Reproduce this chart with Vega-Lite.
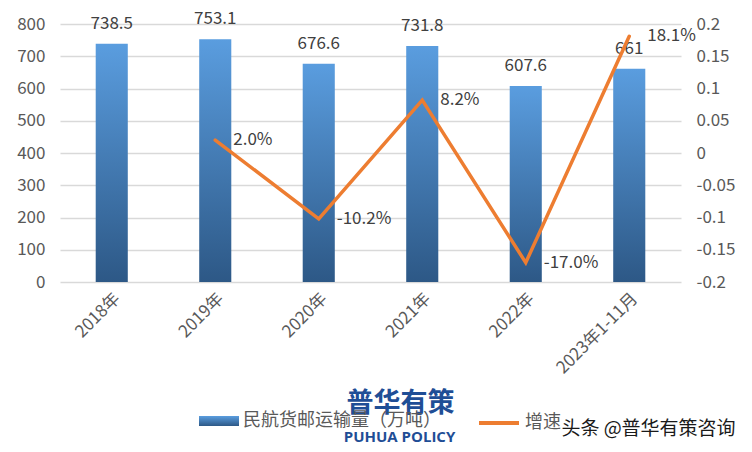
{
  "$schema": "https://vega.github.io/schema/vega-lite/v6.json",
  "width": 621,
  "height": 258,
  "autosize": {"type": "none"},
  "padding": {"left": 60, "top": 24, "right": 71, "bottom": 170},
  "background": "white",
  "data": {"values": [
    {"year": "2018年", "volume": 738.5, "growth": null},
    {"year": "2019年", "volume": 753.1, "growth": 0.020},
    {"year": "2020年", "volume": 676.6, "growth": -0.102},
    {"year": "2021年", "volume": 731.8, "growth": 0.082},
    {"year": "2022年", "volume": 607.6, "growth": -0.170},
    {"year": "2023年1-11月", "volume": 661, "growth": 0.181}
  ]},
  "encoding": {
    "x": {"field": "year", "type": "nominal", "sort": null,
      "scale": {"paddingInner": 0.69, "paddingOuter": 0.345},
      "axis": {"title": "普华有策", "titleFontSize": 27, "titleFontWeight": "bold", "titleColor": "#1F4E96", "titleFont": "Noto Sans CJK SC", "titleX": 340, "titleY": 121, "titleBaseline": "middle", "titleAlign": "center", "labelAngle": -45, "labelPadding": 8, "grid": false}}
  },
  "layer": [
    {
      "encoding": {
        "y": {"field": "volume", "type": "quantitative",
          "scale": {"domain": [0, 800], "nice": false},
          "axis": {"orient": "left", "values": [0, 100, 200, 300, 400, 500, 600, 700, 800], "grid": true, "gridColor": "#D9D9D9", "gridWidth": 1.5, "labelPadding": 15,
            "title": "头条 @普华有策咨询", "titleAngle": 0, "titleX": 588, "titleY": 404, "titleAlign": "center", "titleBaseline": "middle", "titleFontSize": 19, "titleFontWeight": "normal", "titleColor": "#1a1a1a", "titleFont": "Noto Sans CJK SC"}}
      },
      "layer": [
        {
          "mark": {"type": "bar", "color": {"gradient": "linear", "x1": 0, "y1": 0, "x2": 0, "y2": 1, "stops": [{"offset": 0, "color": "#5A9DDF"}, {"offset": 1, "color": "#2D5886"}]}},
          "encoding": {
            "opacity": {"datum": "民航货邮运输量（万吨）", "type": "nominal",
              "scale": {"range": [1]},
              "legend": {"orient": "none", "legendX": 139, "legendY": 377, "title": null, "symbolType": "M-1,-0.25H1V0.25H-1Z", "symbolSize": 1600, "symbolStrokeWidth": 0, "labelFontSize": 18, "labelColor": "#595959", "labelFont": "Noto Sans CJK SC", "labelOffset": 4, "labelLimit": 400,
                "encode": {"symbols": {"update": {"fill": {"value": {"gradient": "linear", "x1": 0, "y1": 0, "x2": 0, "y2": 1, "stops": [{"offset": 0, "color": "#5A9DDF"}, {"offset": 1, "color": "#2D5886"}]}}, "opacity": {"value": 1}, "strokeWidth": {"value": 0}}}}}}
          }
        },
        {
          "mark": {"type": "text", "baseline": "bottom", "dy": -11, "fontSize": 17, "color": "#404040", "font": "Noto Sans CJK SC"},
          "encoding": {
            "text": {"field": "volume", "type": "quantitative", "format": "~f"}
          }
        }
      ]
    },
    {
      "transform": [{"filter": "datum.growth != null"}],
      "encoding": {
        "y": {"field": "growth", "type": "quantitative",
          "scale": {"domain": [-0.2, 0.2], "nice": false, "zero": false},
          "axis": {"orient": "right", "values": [-0.2, -0.15, -0.1, -0.05, 0, 0.05, 0.1, 0.15, 0.2], "format": "~g", "grid": false, "labelPadding": 15,
            "title": "PUHUA POLICY", "titleAngle": 0, "titleX": -282, "titleY": 412, "titleAlign": "center", "titleBaseline": "middle", "titleFontSize": 15, "titleFontWeight": "bold", "titleColor": "#1F4E96", "titleFont": "Open Sans"}}
      },
      "layer": [
        {
          "mark": {"type": "line", "strokeWidth": 3.5, "strokeCap": "round"},
          "encoding": {
            "stroke": {"datum": "增速", "type": "nominal",
              "scale": {"range": ["#ED7D31"]},
              "legend": {"orient": "none", "legendX": 417, "legendY": 377, "title": null, "symbolType": "stroke", "symbolSize": 1600, "symbolStrokeWidth": 4, "labelFontSize": 18, "labelColor": "#595959", "labelFont": "Noto Sans CJK SC", "labelOffset": 4}}
          }
        },
        {
          "mark": {"type": "text", "align": "left", "baseline": "middle", "dx": 18, "fontSize": 17, "color": "#404040", "font": "Noto Sans CJK SC"},
          "encoding": {
            "text": {"field": "growth", "type": "quantitative", "format": ".1%"}
          }
        }
      ]
    }
  ],
  "resolve": {"scale": {"y": "independent"}},
  "config": {
    "view": {"stroke": null},
    "font": "Noto Sans CJK SC",
    "locale": {"number": {"decimal": ".", "thousands": ",", "grouping": [3], "currency": ["$", ""], "minus": "-"}},
    "axis": {"labelFont": "Noto Sans CJK SC", "labelColor": "#595959", "labelFontSize": 17, "ticks": false, "domain": false}
  }
}
